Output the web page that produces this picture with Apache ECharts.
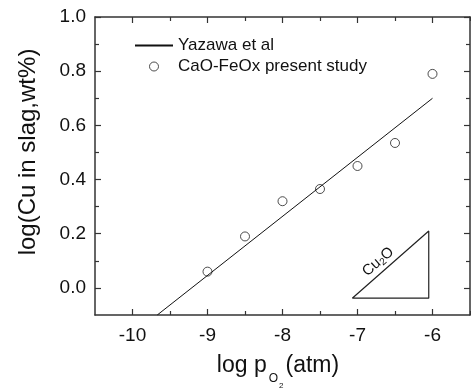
<!DOCTYPE html>
<html>
<head>
<meta charset="utf-8">
<script src="https://cdn.jsdelivr.net/npm/echarts@6/dist/echarts.min.js"></script>
<style>
  html, body { margin: 0; padding: 0; background: #fff; }
  #chart { width: 471px; height: 392px; }
</style>
</head>
<body>
<div id="chart"></div>
<script>
// measured points (CaO-FeOx present study)
let studyX = [-9, -8.5, -8, -7.5, -7, -6.5, -6];
let studyY = [0.06, 0.19, 0.32, 0.365, 0.45, 0.535, 0.79];
// Yazawa et al line
let yazawaX = [-9.67, -6];
let yazawaY = [-0.1, 0.7];
// Cu2O slope triangle
let triX = [-7.07, -6.05, -6.05, -7.07];
let triY = [-0.038, -0.038, 0.21, -0.038];
let triLabel = [-6.72, 0.095];
// ticks
let xMajor = [-10, -9, -8, -7, -6];
let xMinor = [-9.5, -8.5, -7.5, -6.5, -5.5];
let yMajor = [0, 0.2, 0.4, 0.6, 0.8, 1.0];
let yMinor = [0.1, 0.3, 0.5, 0.7, 0.9];

function pairs(xs, ys) {
    let out = [];
    xs.forEach(function (x, i) { out.push([x, ys[i]]); });
    return out;
}

let font = 'Arial, "Liberation Sans", sans-serif';
let frameColor = '#333';

function xAxisDef(pos, ticks, len, showLabel, showLine) {
    return {
        type: 'value', position: pos, min: -10.5, max: -5.5,
        axisLine: { show: showLine, onZero: false, lineStyle: { color: frameColor, width: 1.5 } },
        axisTick: { show: true, inside: true, length: len, customValues: ticks,
            lineStyle: { color: frameColor, width: 1.2 } },
        axisLabel: { show: showLabel, customValues: xMajor, color: '#111', fontSize: 19,
            fontFamily: font, margin: 11 },
        splitLine: { show: false }
    };
}
function yAxisDef(pos, ticks, len, showLabel, showLine) {
    return {
        type: 'value', position: pos, min: -0.1, max: 1.0,
        axisLine: { show: showLine, onZero: false, lineStyle: { color: frameColor, width: 1.5 } },
        axisTick: { show: true, inside: true, length: len, customValues: ticks,
            lineStyle: { color: frameColor, width: 1.2 } },
        axisLabel: { show: showLabel, customValues: yMajor, color: '#111', fontSize: 19,
            fontFamily: font, margin: 9,
            formatter: function (v) { return v.toFixed(1); } },
        splitLine: { show: false }
    };
}

let xAxes = [
    xAxisDef('bottom', xMajor, 6, true, true),
    xAxisDef('bottom', xMinor, 4, false, false),
    xAxisDef('top', xMajor, 6, false, true),
    xAxisDef('top', xMinor, 4, false, false)
];

let yAxes = [
    yAxisDef('left', yMajor, 6, true, true),
    yAxisDef('left', yMinor, 4, false, false),
    yAxisDef('right', yMajor, 6, false, true),
    yAxisDef('right', yMinor, 4, false, false)
];
yAxes[0].name = 'log(Cu in slag,wt%)';
yAxes[0].nameLocation = 'middle';
yAxes[0].nameGap = 55;
yAxes[0].nameTextStyle = { color: '#111', fontSize: 24, fontFamily: font, padding: [0, 0, 0, 28] };

let myChart = echarts.init(document.getElementById('chart'));
let option = {
    animation: false,
    backgroundColor: '#fff',
    grid: { left: 95, right: 1, top: 17, bottom: 77, containLabel: false, outerBoundsMode: 'none' },
    xAxis: xAxes,
    yAxis: yAxes,
    legend: {
        show: true,
        orient: 'vertical',
        left: 134, top: 37,
        padding: 0,
        itemWidth: 38, itemHeight: 9, itemGap: 4,
        textStyle: { color: '#111', fontSize: 17, fontFamily: font },
        data: [
            { name: 'Yazawa et al', itemStyle: { opacity: 0 } },
            { name: 'CaO-FeOx present study', itemStyle: { color: '#fff', borderColor: '#222', borderWidth: 1 } }
        ]
    },
    series: [{
        name: 'Yazawa et al',
        type: 'line',
        xAxisIndex: 0, yAxisIndex: 0,
        data: pairs(yazawaX, yazawaY),
        symbol: 'none',
        lineStyle: { color: '#111', width: 1 },
        itemStyle: { color: '#111' },
        silent: true
    }, {
        name: 'CaO-FeOx present study',
        type: 'scatter',
        xAxisIndex: 0, yAxisIndex: 0,
        data: pairs(studyX, studyY),
        symbol: 'circle',
        symbolSize: 9,
        itemStyle: { color: '#fff', borderColor: '#222', borderWidth: 1 },
        silent: true
    }, {
        name: 'triangle',
        type: 'line',
        xAxisIndex: 0, yAxisIndex: 0,
        data: pairs(triX, triY),
        symbol: 'none',
        lineStyle: { color: '#222', width: 1.2 },
        silent: true
    }]
};
myChart.setOption(option, true);

// x axis title: log p with nested subscripts O and 2
let ctx = document.createElement('canvas').getContext('2d');
function textW(s, size) {
    ctx.font = size + 'px ' + font;
    return ctx.measureText(s).width;
}
let titleParts = [
    { t: 'log p', size: 23, y: 366, gap: 2 },
    { t: 'O', size: 12, y: 379, gap: 1 },
    { t: '2', size: 8, y: 386, gap: 2 },
    { t: '(atm)', size: 23, y: 366, gap: 0 }
];
let totalW = 0;
titleParts.forEach(function (part) { totalW += textW(part.t, part.size) + part.gap; });
let cx = 278 - totalW / 2;
let graphics = [];
titleParts.forEach(function (part) {
    graphics.push({
        type: 'text', x: cx, y: part.y, silent: true,
        style: { text: part.t, fontSize: part.size, fontFamily: font, fill: '#111',
            align: 'left', verticalAlign: 'middle' }
    });
    cx += textW(part.t, part.size) + part.gap;
});

// Cu2O label along the hypotenuse
let p = myChart.convertToPixel({ xAxisIndex: 0, yAxisIndex: 0 }, triLabel);
graphics.push({
    type: 'text', x: p[0], y: p[1], rotation: 41 * Math.PI / 180, silent: true,
    style: {
        text: '{a|Cu}{s|2}{a|O}', align: 'center', verticalAlign: 'middle',
        rich: {
            a: { fontSize: 15, lineHeight: 16, verticalAlign: 'top', fontFamily: font, fill: '#111' },
            s: { fontSize: 10, lineHeight: 10, padding: [12, 0, 0, 0], verticalAlign: 'bottom', fontFamily: font, fill: '#111' }
        }
    }
});
myChart.setOption({ graphic: graphics });
</script>
</body>
</html>
